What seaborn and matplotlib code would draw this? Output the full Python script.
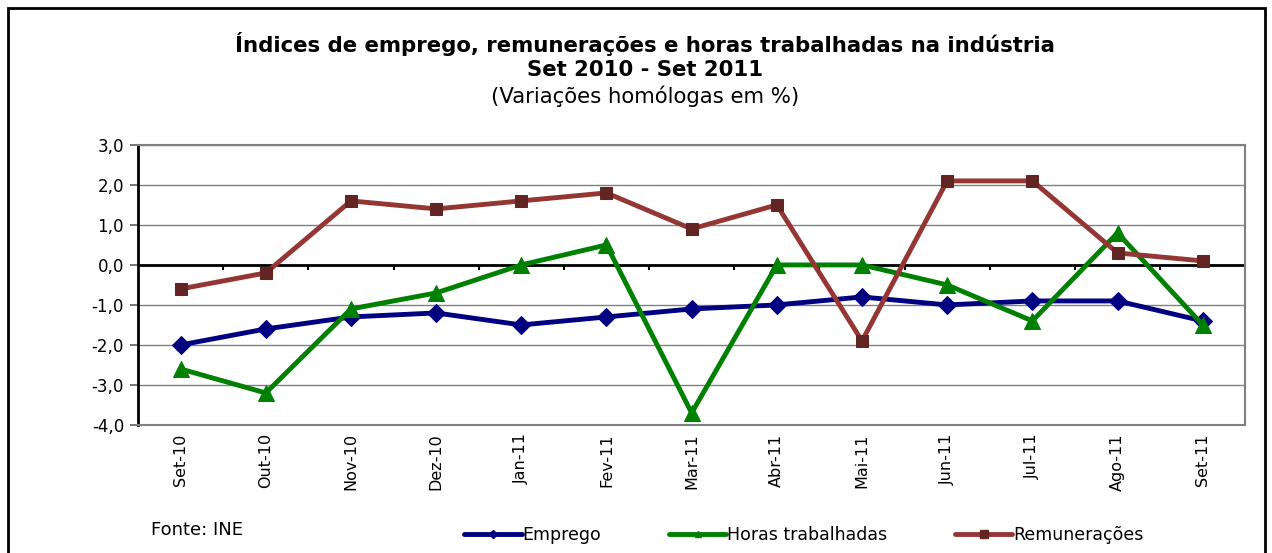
import numpy as np
import pandas as pd
import matplotlib
matplotlib.use('Agg')
import matplotlib.pyplot as plt
import seaborn as sns
from matplotlib.lines import Line2D
from matplotlib.patches import Rectangle

meses = ['Set-10', 'Out-10', 'Nov-10', 'Dez-10', 'Jan-11', 'Fev-11', 'Mar-11',
         'Abr-11', 'Mai-11', 'Jun-11', 'Jul-11', 'Ago-11', 'Set-11']
emprego = [-2.0, -1.6, -1.3, -1.2, -1.5, -1.3, -1.1, -1.0, -0.8, -1.0, -0.9, -0.9, -1.4]
horas = [-2.6, -3.2, -1.1, -0.7, 0.0, 0.5, -3.7, 0.0, 0.0, -0.5, -1.4, 0.8, -1.5]
remuneracoes = [-0.6, -0.2, 1.6, 1.4, 1.6, 1.8, 0.9, 1.5, -1.9, 2.1, 2.1, 0.3, 0.1]

series = ['Emprego', 'Horas trabalhadas', 'Remunerações']
cores = {'Emprego': '#000080', 'Horas trabalhadas': '#008000', 'Remunerações': '#943634'}
cores_marcador = {'Emprego': '#000080', 'Horas trabalhadas': '#008000', 'Remunerações': '#632523'}
marcadores = {'Emprego': 'D', 'Horas trabalhadas': '^', 'Remunerações': 's'}
tam_marcador = {'Emprego': 9, 'Horas trabalhadas': 12, 'Remunerações': 9}
tam_legenda = {'Emprego': 4, 'Horas trabalhadas': 5, 'Remunerações': 6}

df = pd.DataFrame({'x': np.arange(len(meses)), 'mes': meses,
                   'Emprego': emprego, 'Horas trabalhadas': horas,
                   'Remunerações': remuneracoes})

sns.set_style('white')
plt.rcParams['font.family'] = ['DejaVu Sans']
plt.rcParams['text.color'] = 'black'
plt.rcParams['xtick.color'] = 'black'
plt.rcParams['ytick.color'] = 'black'

fig = plt.figure(figsize=(12.72, 5.53), dpi=100)
ax = fig.add_axes([0.1085, 0.2315, 0.8705, 0.5065])

# linhas de grelha
for v in range(-4, 4):
    ax.axhline(v, color='#808080', lw=1, zorder=0)

for s in series:
    sns.lineplot(data=df, x='x', y=s, ax=ax, color=cores[s], lw=3.5,
                 marker=marcadores[s], markersize=tam_marcador[s],
                 markerfacecolor=cores_marcador[s], markeredgecolor=cores_marcador[s],
                 sort=False, legend=False, zorder=3)

# eixo do zero com marcas entre categorias
ax.axhline(0, color='black', lw=2, zorder=2)
ax.vlines(np.arange(-0.5, len(meses)), -0.12, 0, color='black', lw=1.5, zorder=2)

ax.set_xlim(-0.5, len(meses) - 0.5)
ax.set_ylim(-4, 3)
ax.set_xticks(df['x'])
ax.set_xticklabels(meses, rotation=90, fontsize=11.5)
ax.set_yticks(range(-4, 4))
ax.set_yticklabels([f'{v:.1f}'.replace('.', ',') for v in range(-4, 4)], fontsize=12)
ax.tick_params(axis='x', length=0, pad=6)
ax.tick_params(axis='y', length=6, width=1.2, color='#606060', left=True, pad=4)
ax.set_xlabel('')
ax.set_ylabel('')

for lado in ['top', 'right', 'bottom']:
    ax.spines[lado].set_color('#808080')
    ax.spines[lado].set_linewidth(1.5)
ax.spines['left'].set_color('black')
ax.spines['left'].set_linewidth(2)

fig.text(0.507, 0.921, 'Índices de emprego, remunerações e horas trabalhadas na indústria',
         ha='center', va='center', fontsize=15.3, fontweight='bold')
fig.text(0.507, 0.873, 'Set 2010 - Set 2011', ha='center', va='center',
         fontsize=15.3, fontweight='bold')
fig.text(0.507, 0.826, '(Variações homólogas em %)', ha='center', va='center', fontsize=15.3)

fig.text(0.119, 0.042, 'Fonte: INE', ha='left', va='center', fontsize=13)

handles = [Line2D([], [], color=cores[s], lw=3.5, marker=marcadores[s],
                  markersize=tam_legenda[s],
                  markerfacecolor=cores_marcador[s], markeredgecolor=cores_marcador[s])
           for s in series]
fig.legend(handles, series, loc='center', bbox_to_anchor=(0.632, 0.033), ncol=3,
           frameon=False, fontsize=12.5, handlelength=3.3, handletextpad=0.05,
           columnspacing=3.9)

fig.add_artist(Rectangle((0.0063, -0.05), 0.9882, 1.0355, transform=fig.transFigure,
                         fill=False, edgecolor='black', lw=2, clip_on=False))

plt.savefig('out.png', dpi=100)
